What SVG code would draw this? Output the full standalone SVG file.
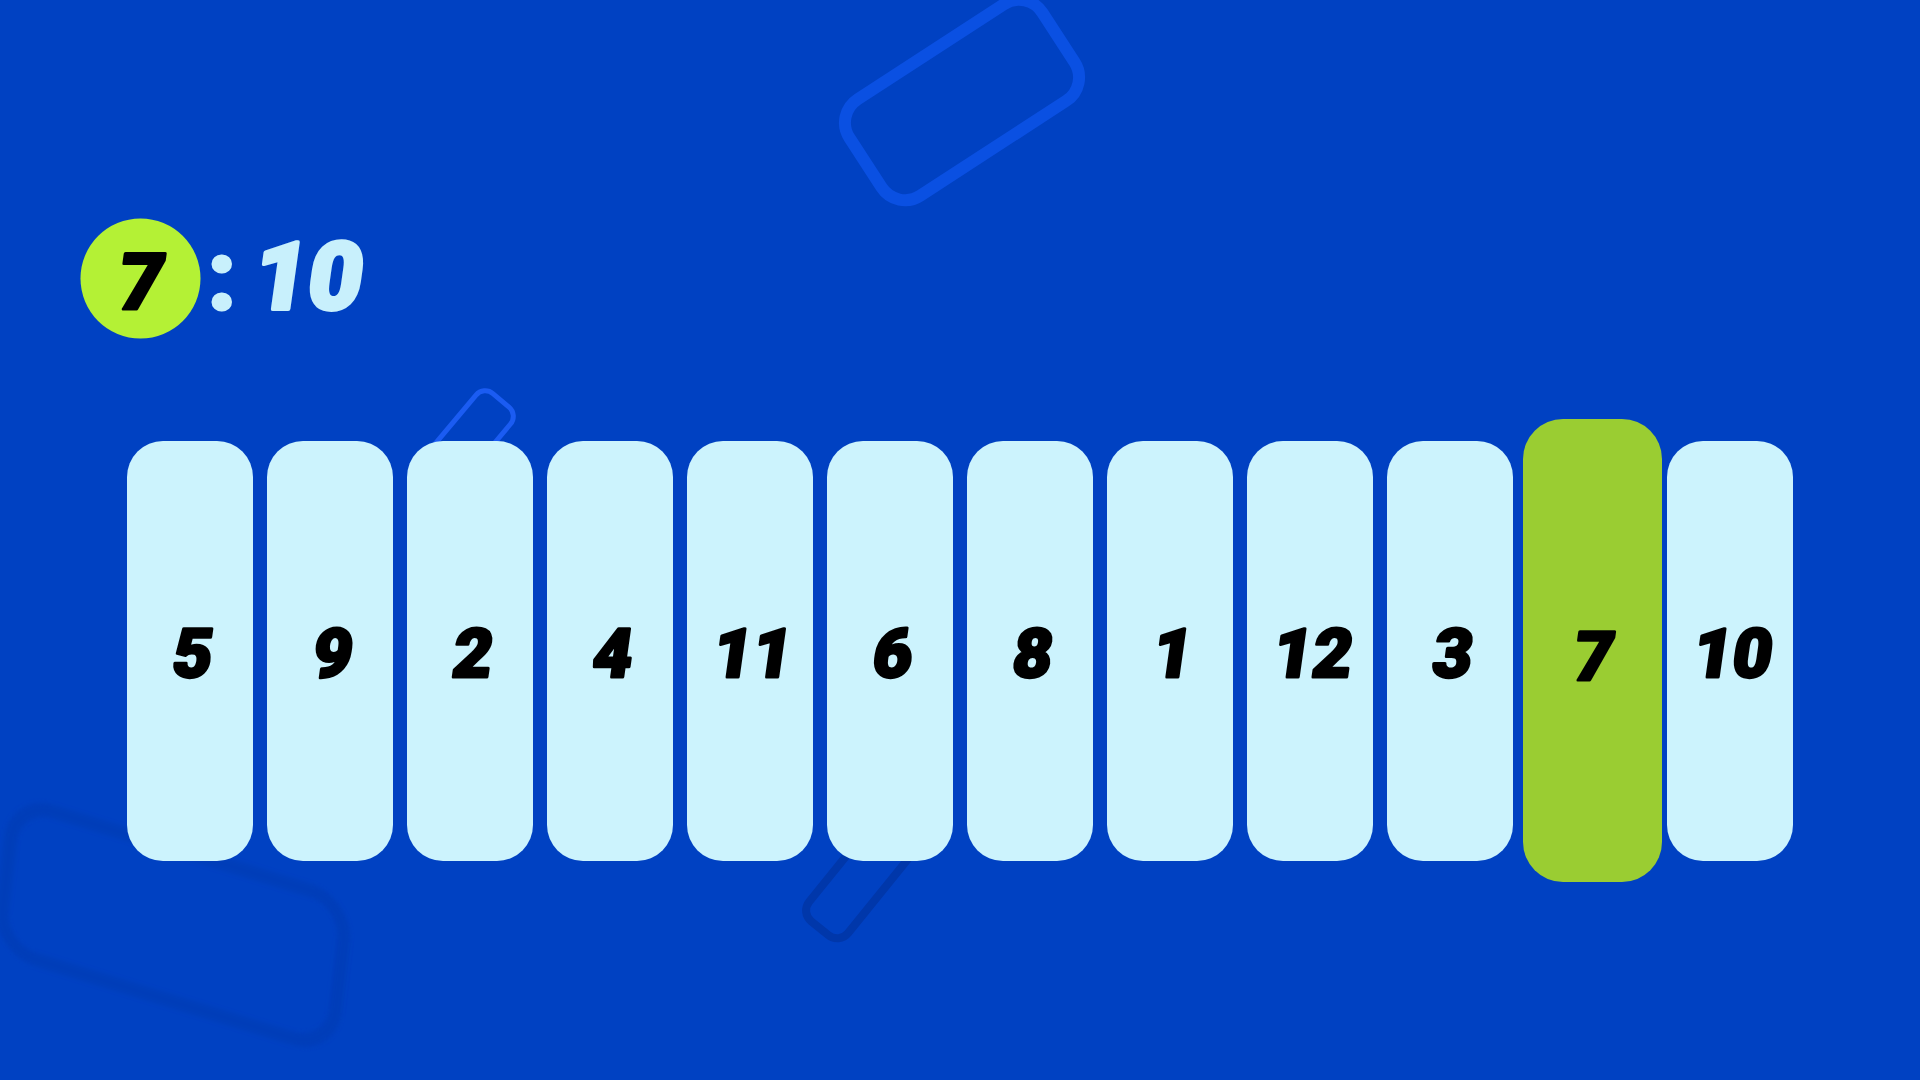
<svg xmlns="http://www.w3.org/2000/svg" width="1920" height="1080" viewBox="0 0 1920 1080">
<defs>
<style>
.card{fill:#ccf3fd;}
.hl{fill:#9acd32;}
.num{font-family:Roboto,"Noto Sans","DejaVu Sans",sans-serif;font-weight:900;font-size:68px;fill:#000;stroke:#000;stroke-width:3;stroke-linejoin:round;text-anchor:middle;}
.big{font-family:Roboto,"Noto Sans","DejaVu Sans",sans-serif;font-weight:900;stroke-linejoin:round;}
.deco{fill:none;}
</style>
<filter id="soft" x="-10%" y="-10%" width="120%" height="120%"><feGaussianBlur stdDeviation="2"/></filter>
</defs>
<rect width="1920" height="1080" fill="#0041c2"/>
<g id="decorations">
<rect class="deco" x="847" y="42.5" width="230" height="115" rx="28" transform="rotate(-33 962 100)" stroke="#0a50e2" stroke-width="12"/>
<rect class="deco" x="440" y="386" width="45" height="120" rx="12" transform="rotate(40 462 446)" stroke="#1b5cf2" stroke-width="5"/>
<rect class="deco" x="842" y="795" width="50" height="150" rx="14" transform="rotate(39 867 870)" stroke="#0037aa" stroke-width="8"/>
<rect class="deco" x="0" y="0" width="348" height="149" rx="40" transform="matrix(0.957 0.293 -0.114 0.993 15 800)" stroke="#003cb9" stroke-width="13" filter="url(#soft)"/>
</g>
<g id="score">
<circle cx="140.5" cy="278.5" r="60" fill="#b4f135"/>
<text class="big" transform="translate(138 309) skewX(-8)" font-size="78" fill="#000" stroke="#000" stroke-width="3" text-anchor="middle">7</text>
<text class="big" transform="translate(222 309)" font-size="96" fill="#c8f0fc" stroke="#c8f0fc" stroke-width="3" text-anchor="middle">:</text>
<text class="big" transform="translate(250 309) skewX(-8)" font-size="94" fill="#c8f0fc" stroke="#c8f0fc" stroke-width="4">10</text>
</g>
<g id="cards">
<g id="card-5"><rect class="card" x="127" y="441" width="126" height="420" rx="36"/><text class="num" transform="translate(190 677) skewX(-8)">5</text></g>
<g id="card-9"><rect class="card" x="267" y="441" width="126" height="420" rx="36"/><text class="num" transform="translate(330 677) skewX(-8)">9</text></g>
<g id="card-2"><rect class="card" x="407" y="441" width="126" height="420" rx="36"/><text class="num" transform="translate(470 677) skewX(-8)">2</text></g>
<g id="card-4"><rect class="card" x="547" y="441" width="126" height="420" rx="36"/><text class="num" transform="translate(610 677) skewX(-8)">4</text></g>
<g id="card-11"><rect class="card" x="687" y="441" width="126" height="420" rx="36"/><text class="num" transform="translate(750 677) skewX(-8)">11</text></g>
<g id="card-6"><rect class="card" x="827" y="441" width="126" height="420" rx="36"/><text class="num" transform="translate(890 677) skewX(-8)">6</text></g>
<g id="card-8"><rect class="card" x="967" y="441" width="126" height="420" rx="36"/><text class="num" transform="translate(1030 677) skewX(-8)">8</text></g>
<g id="card-1"><rect class="card" x="1107" y="441" width="126" height="420" rx="36"/><text class="num" transform="translate(1170 677) skewX(-8)">1</text></g>
<g id="card-12"><rect class="card" x="1247" y="441" width="126" height="420" rx="36"/><text class="num" transform="translate(1310 677) skewX(-8)">12</text></g>
<g id="card-3"><rect class="card" x="1387" y="441" width="126" height="420" rx="36"/><text class="num" transform="translate(1450 677) skewX(-8)">3</text></g>
<g id="card-7"><rect class="hl" x="1523" y="419" width="139" height="463" rx="40"/><text class="num" transform="translate(1591 680) skewX(-8)" font-size="74">7</text></g>
<g id="card-10"><rect class="card" x="1667" y="441" width="126" height="420" rx="36"/><text class="num" transform="translate(1730 677) skewX(-8)">10</text></g>
</g>
<g id="connectors"/>
</svg>
